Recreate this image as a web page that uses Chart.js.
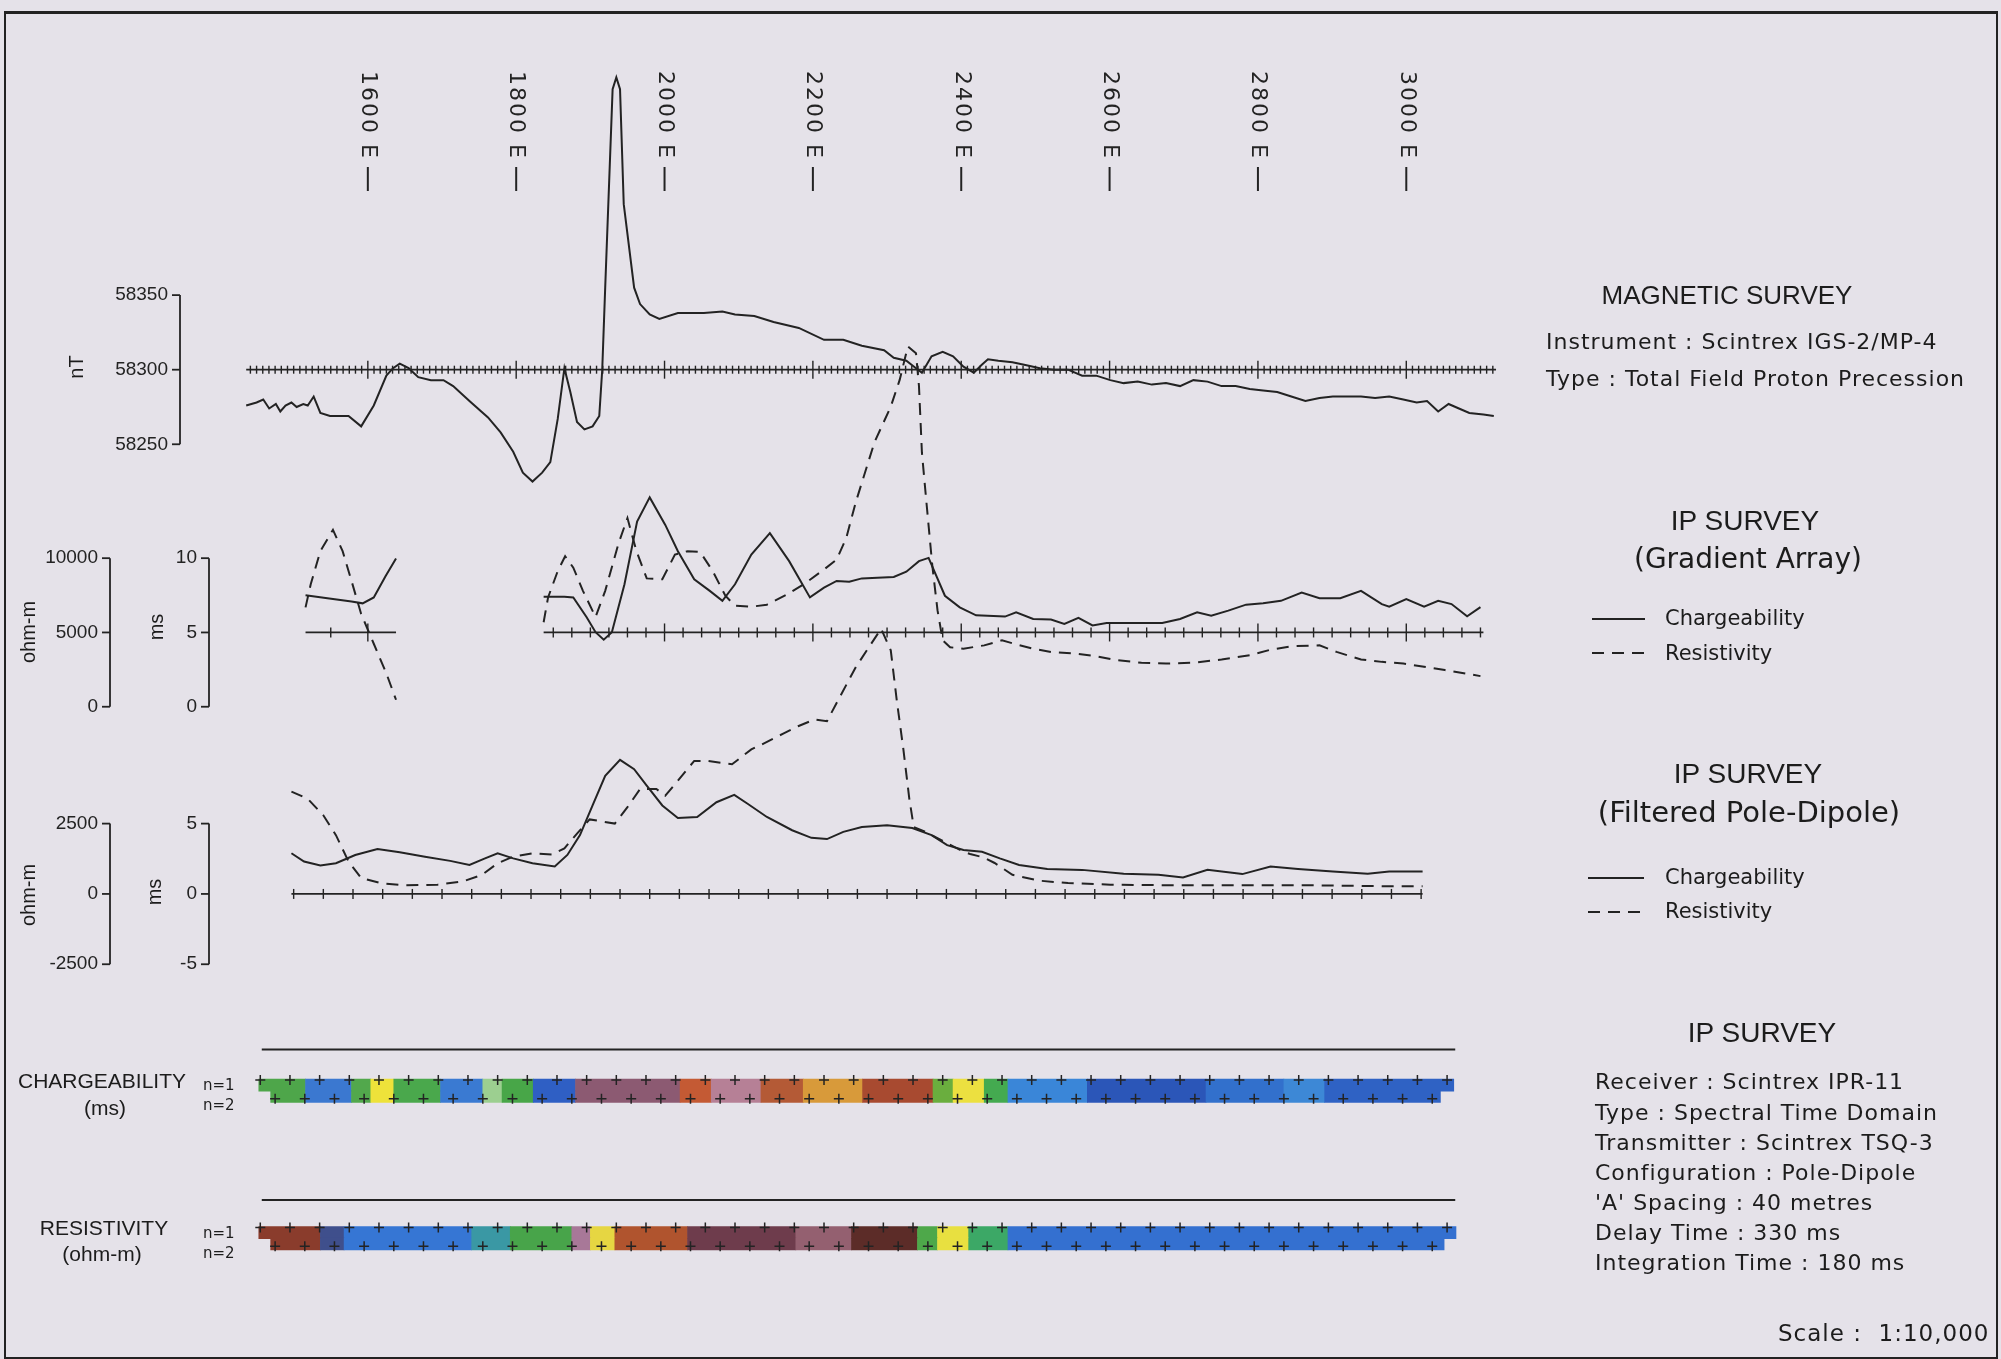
<!DOCTYPE html>
<html lang="en">
<head>
<meta charset="UTF-8">
<title>Magnetic and IP Survey Profile</title>
<script src="https://cdn.jsdelivr.net/npm/chart.js"></script>
<style>
  body { margin: 0; background: #e5e2e9; }
  #sheet { position: relative; width: 2001px; height: 1359px; overflow: hidden; background: #e5e2e9; }
  #survey { position: absolute; left: 0; top: 0; }
  .frame { position: absolute; left: 4px; top: 11px; width: 1990px; height: 1343px; border: 2px solid #222; border-top-width: 3px; }
  .t { position: absolute; white-space: nowrap; color: #1c1c1c; line-height: 1; }
  .c { transform: translate(-50%, -50%); }
  .l { transform: translateY(-50%); }
  .head { font-family: "Liberation Sans", Arial, sans-serif; font-size: 26px; }
  .note { font-family: "DejaVu Sans", sans-serif; font-size: 22px; letter-spacing: 1px; }
  .leg { font-family: "DejaVu Sans", sans-serif; font-size: 21px; }
  .side { font-family: "Liberation Sans", Arial, sans-serif; font-size: 21px; }
  .nlab { font-family: "DejaVu Sans", sans-serif; font-size: 15px; }
  .rot { font-family: "Liberation Sans", Arial, sans-serif; font-size: 20px; transform: translate(-50%, -50%) rotate(-90deg); }
  .solid { position: absolute; height: 2px; background: #222; }
  .dash { position: absolute; height: 2px; background: repeating-linear-gradient(90deg, #222 0 12px, transparent 12px 20px); }
</style>
</head>
<body>
<div id="sheet">
  <canvas id="survey" width="2001" height="1359"></canvas>
  <div class="frame"></div>

  <!-- axis titles -->
  <div class="t rot" style="left:76px;top:367px">nT</div>
  <div class="t rot" style="left:28px;top:632px">ohm-m</div>
  <div class="t rot" style="left:156px;top:627px">ms</div>
  <div class="t rot" style="left:28px;top:895px">ohm-m</div>
  <div class="t rot" style="left:154px;top:892px">ms</div>

  <!-- pseudo-section labels -->
  <div class="t c side" style="left:102px;top:1080px">CHARGEABILITY</div>
  <div class="t c side" style="left:105px;top:1107px">(ms)</div>
  <div class="t l nlab" style="left:203px;top:1085px">n=1</div>
  <div class="t l nlab" style="left:203px;top:1105px">n=2</div>
  <div class="t c side" style="left:104px;top:1227px">RESISTIVITY</div>
  <div class="t c side" style="left:102px;top:1253px">(ohm-m)</div>
  <div class="t l nlab" style="left:203px;top:1233px">n=1</div>
  <div class="t l nlab" style="left:203px;top:1253px">n=2</div>

  <!-- right hand notes -->
  <div class="t c head" style="left:1727px;top:295px">MAGNETIC SURVEY</div>
  <div class="t l note" style="left:1546px;top:342px">Instrument : Scintrex IGS-2/MP-4</div>
  <div class="t l note" style="left:1546px;top:379px">Type : Total Field Proton Precession</div>

  <div class="t c head" style="left:1745px;top:521px;font-size:28px">IP SURVEY</div>
  <div class="t c leg" style="left:1748px;top:559px;font-size:28px">(Gradient Array)</div>
  <div class="solid" style="left:1592px;top:618px;width:53px"></div>
  <div class="t l leg" style="left:1665px;top:618px">Chargeability</div>
  <div class="dash" style="left:1592px;top:652px;width:53px"></div>
  <div class="t l leg" style="left:1665px;top:653px">Resistivity</div>

  <div class="t c head" style="left:1748px;top:774px;font-size:28px">IP SURVEY</div>
  <div class="t c leg" style="left:1749px;top:812px;font-size:29px">(Filtered Pole-Dipole)</div>
  <div class="solid" style="left:1588px;top:877px;width:56px"></div>
  <div class="t l leg" style="left:1665px;top:877px">Chargeability</div>
  <div class="dash" style="left:1588px;top:911px;width:56px"></div>
  <div class="t l leg" style="left:1665px;top:911px">Resistivity</div>

  <div class="t c head" style="left:1762px;top:1033px;font-size:28px">IP SURVEY</div>
  <div class="t l note" style="left:1595px;top:1082px">Receiver : Scintrex IPR-11</div>
  <div class="t l note" style="left:1595px;top:1113px">Type : Spectral Time Domain</div>
  <div class="t l note" style="left:1595px;top:1143px">Transmitter : Scintrex TSQ-3</div>
  <div class="t l note" style="left:1595px;top:1173px">Configuration : Pole-Dipole</div>
  <div class="t l note" style="left:1595px;top:1203px">'A' Spacing : 40 metres</div>
  <div class="t l note" style="left:1595px;top:1233px">Delay Time : 330 ms</div>
  <div class="t l note" style="left:1595px;top:1263px">Integration Time : 180 ms</div>
  <div class="t l note" style="left:1778px;top:1333px;font-size:23px">Scale :&nbsp; 1:10,000</div>
</div>

<script>
const INK = '#232323';
const W = 2001, H = 1359;

// station labels along the line (metres east)
const stationLabels = [1600, 1800, 2000, 2200, 2400, 2600, 2800, 3000];

// magnetic total field (nT)
const magStations = [1436,1450,1459,1467,1476,1482,1489,1497,1504,1513,1519,1527,1536,1549,1561,1574,1591,1608,1625,1634,
  1643,1655,1668,1685,1702,1715,1737,1762,1779,1796,1809,1822,1835,1846,1856,1865,1873,1882,1892,1903,
  1912,1916,1920,1930,1935,1940,1945,1959,1967,1980,1993,2018,2053,2078,2095,2121,2147,2181,2215,2241,2266,2296,
  2309,2326,2339,2347,2360,2375,2389,2403,2417,2427,2436,2450,2469,2488,2506,2525,2544,2563,2582,2601,
  2619,2638,2657,2676,2695,2713,2732,2751,2770,2789,2807,2826,2845,2864,2883,2901,2920,2939,2958,2977,
  2996,3014,3028,3043,3057,3071,3085,3104,3118];
const magField = [58276,58278,58280,58274,58277,58272,58276,58278,58275,58277,58276,58282,58271,58269,58269,58269,58262,58276,58296,58301,
  58304,58301,58295,58293,58293,58289,58279,58268,58258,58245,58231,58225,58231,58238,58267,58301,58285,58265,58260,58262,
  58269,58300,58355,58488,58496,58488,58411,58355,58344,58337,58334,58338,58338,58339,58337,58336,58332,58328,58320,58320,58316,58313,
  58308,58306,58301,58298,58309,58312,58309,58302,58298,58303,58307,58306,58305,58303,58301,58300,58300,58296,58296,58293,
  58291,58292,58290,58291,58289,58293,58292,58289,58289,58287,58286,58285,58282,58279,58281,58282,58282,58282,58281,58282,
  58280,58278,58279,58272,58277,58274,58271,58270,58269];

// gradient array, west block
const gradChgStationsW = [1516, 1548, 1578, 1593, 1608, 1624, 1638];
const gradChgW = [7.51, 7.29, 7.09, 6.96, 7.36, 8.8, 9.98];                       // ms
const gradResStationsW = [1516, 1523, 1536, 1553, 1566, 1578, 1591, 1608, 1625, 1638];
const gradResW = [6690, 8240, 10470, 11910, 10470, 8470, 6240, 4240, 2240, 470]; // ohm-m

// gradient array, east block
const gradChgStationsE = [1837,1865,1877,1895,1907,1918,1929,1946,1963,1980,2001,2018,2040,2061,2078,2095,2117,2142,2168,2196,
  2215,2232,2249,2266,2287,2309,2326,2343,2356,2378,2398,2420,2459,2474,2497,2521,2539,2558,2577,2596,
  2671,2695,2718,2737,2760,2784,2807,2831,2859,2883,2911,2939,2967,2977,3000,3024,3043,3061,3082,3100];
const gradChgE = [7.40,7.40,7.36,6.02,5.02,4.51,5.02,8.24,12.47,14.09,12.24,10.47,8.58,7.80,7.13,8.24,10.24,11.69,9.80,7.36,
  8.02,8.47,8.42,8.64,8.69,8.73,9.09,9.80,10.02,7.47,6.69,6.15,6.07,6.36,5.91,5.87,5.58,5.98,5.47,5.64,
  5.64,5.91,6.36,6.13,6.47,6.87,6.96,7.13,7.69,7.31,7.31,7.80,6.91,6.73,7.24,6.73,7.13,6.91,6.09,6.70];
const gradResStationsE = [1837,1843,1856,1866,1877,1890,1907,1920,1938,1950,1962,1976,1997,2014,2031,2048,2065,2082,2095,2117,
  2138,2164,2189,2215,2232,2245,2258,2283,2305,2317,2328,2339,2343,2347,2353,2361,2368,2375,2385,2403,
  2431,2455,2474,2497,2521,2553,2582,2610,2643,2676,2713,2751,2789,2817,2845,2883,2906,2939,2967,2996,
  3024,3052,3080,3100];
const gradResE = [5690,7360,9130,10130,9360,7800,6040,7800,11000,12700,10500,8640,8580,10240,10470,10420,9130,7470,6800,6730,
  6870,7530,8290,9240,9910,11360,13800,17800,20200,22000,24250,23800,21600,17100,13800,9500,6500,4470,4000,3910,
  4130,4470,4200,3910,3690,3580,3400,3130,2960,2910,2960,3180,3470,3840,4070,4130,3690,3180,3020,2910,
  2690,2470,2240,2060];

// filtered pole-dipole
const pdChgStations = [1497,1514,1536,1557,1583,1613,1643,1677,1711,1737,1758,1775,1796,1822,1852,1869,1886,1903,1920,1940,
  1959,1976,1997,2018,2044,2070,2094,2112,2138,2172,2198,2219,2241,2266,2300,2334,2360,2381,2403,2428,
  2452,2478,2516,2563,2619,2666,2699,2732,2779,2817,2854,2901,2948,2977,3022];
const pdChg = [2.89,2.30,2.02,2.18,2.77,3.19,2.96,2.65,2.35,2.06,2.53,2.89,2.53,2.18,1.95,2.77,4.18,6.29,8.40,9.53,
  8.87,7.70,6.29,5.40,5.47,6.52,7.04,6.41,5.47,4.53,3.99,3.90,4.41,4.76,4.88,4.69,4.18,3.47,3.12,3.00,
  2.53,2.06,1.78,1.71,1.43,1.36,1.17,1.71,1.41,1.95,1.78,1.59,1.43,1.59,1.59];
const pdResStations = [1497,1519,1540,1557,1574,1591,1617,1651,1694,1728,1754,1775,1796,1822,1848,1865,1882,1899,1933,1950,
  1967,1989,2001,2018,2040,2057,2091,2117,2130,2160,2180,2202,2219,2232,2258,2292,2305,2313,2322,2330,
  2336,2352,2377,2403,2412,2430,2445,2469,2506,2544,2601,2695,2789,2883,2977,3022];
const pdRes = [3640,3380,2795,2090,1150,565,385,305,330,445,680,1090,1325,1445,1405,1620,2145,2650,2500,3085,
  3730,3730,3495,4025,4730,4730,4610,5140,5300,5700,5960,6200,6140,6790,8070,9430,8660,6900,5140,3380,
  2380,2205,1855,1500,1420,1300,1100,680,470,385,330,305,305,305,270,270];

// axis ticks of the small bracket scales
const magTicks = [58250, 58300, 58350];
const gradOhmTicks = [0, 5000, 10000];
const gradMsTicks = [0, 5, 10];
const pdOhmTicks = [-2500, 0, 2500];
const pdMsTicks = [-5, 0, 5];

// pseudo-section colour blocks (station breaks, colour per block)
const chgBreaks = [1453,1516,1578,1604,1635,1698,1755,1781,1823,1880,2021,2063,2130,2187,2267,2362,2389,2431,2463,2570,2730,2835,2890,3067];
const chgColors = ['#4ea64a','#3b78d0','#52a84c','#eee23a','#4aa84c','#3a7ad2','#9ccf90','#48a648','#2f5fc4','#8c5a72','#c45a34',
  '#b68096','#b45a36','#d89a3a','#a84a30','#6aae3e','#ece040','#44aa50','#3a86d8','#2b56b8','#3270cc','#3d88d6','#2f62c4'];
const chgRowStart = [1453, 1469];
const chgRowEnd = [3064, 3046];
const resBreaks = [1453,1536,1568,1740,1792,1875,1900,1933,2031,2177,2252,2341,2368,2410,2463,3067];
const resColors = ['#8a3c2c','#3f4f8c','#3676d4','#3a98a4','#48a44a','#a87898','#e6d642','#b0542e','#6e3c4c','#946070',
  '#5c2c28','#4ea84a','#e8e040','#3ca866','#3470d0'];
const resRowStart = [1453, 1469];
const resRowEnd = [3067, 3051];
const n1Stations = [1455,1495,1535,1575,1615,1655,1695,1735,1775,1815,1855,1895,1935,1975,2015,2055,2095,2135,2175,2215,
  2255,2295,2335,2375,2415,2455,2495,2535,2575,2615,2655,2695,2735,2775,2815,2855,2895,2935,2975,3015,3055];
const n2Stations = [1475,1515,1555,1595,1635,1675,1715,1755,1795,1835,1875,1915,1955,1995,2035,2075,2115,2155,2195,2235,
  2275,2315,2355,2395,2435,2475,2515,2555,2595,2635,2675,2715,2755,2795,2835,2875,2915,2955,2995,3035];

// ---- layout: every panel shares the full canvas, each y scale is placed by its own range ----
function band(value, px, pxPerUnit) {
  const max = value + px / pxPerUnit;
  return { type: 'linear', display: false, offset: false, bounds: 'data', min: max - H / pxPerUnit, max };
}
function bandDown(value, px, pxPerUnit) {
  const min = value - px / pxPerUnit;
  return { type: 'linear', display: false, offset: false, bounds: 'data', reverse: true, min, max: min + H / pxPerUnit };
}
const xPerM = 0.7466;
const xMin = 1600 - 363.7 / xPerM;
const rowPx = 11.4;

function pts(xs, ys) { return xs.map((s, i) => ({ x: s, y: ys[i] })); }
function trace(xs, ys, yAxisID, dash) {
  return {
    type: 'line', data: pts(xs, ys), xAxisID: 'x', yAxisID,
    borderColor: INK, borderWidth: 2, borderDash: dash || [],
    pointRadius: 0, fill: false, tension: 0, clip: false, order: 1
  };
}
function section(breaks, colors, starts, ends, yAxisID) {
  const data = [], fill = [];
  [1, 2].forEach((n, r) => {
    for (let i = 0; i < colors.length; i++) {
      const a = Math.max(breaks[i], starts[r]);
      const b = Math.min(breaks[i + 1], ends[r]);
      if (b > a) { data.push({ x: [a, b], y: n }); fill.push(colors[i]); }
    }
  });
  return {
    type: 'bar', indexAxis: 'y', xAxisID: 'x', yAxisID, data,
    backgroundColor: fill, borderWidth: 0, barThickness: rowPx + 0.6, grouped: false, order: 5
  };
}
function marks(xs, level, yAxisID) {
  return {
    type: 'scatter', data: xs.map(s => ({ x: s, y: level })), xAxisID: 'x', yAxisID,
    pointStyle: 'cross', pointRadius: 5, borderColor: INK, borderWidth: 1.5, showLine: false, clip: false, order: 0
  };
}

// baselines with station ticks, bracket axes, rules over the sections
const baselines = [
  { axis: 'yMag', level: 58300, from: 1436, to: 3121, first: 1600 - 19 * 200 / 24, step: 200 / 24, minor: 4, major: 9 },
  { axis: 'yGms', level: 5, from: 1516, to: 1638, first: 1550, step: 50, minor: 5, major: 9 },
  { axis: 'yGms', level: 5, from: 1837, to: 3104, first: 1850, step: 25, minor: 5, major: 9 },
  { axis: 'yPms', level: 0, from: 1497, to: 3022, first: 1500, step: 40, minor: 5, major: 9 }
];
const brackets = [
  { axis: 'yMag', at: 180, ticks: magTicks },
  { axis: 'yGohm', at: 110, ticks: gradOhmTicks },
  { axis: 'yGms', at: 209, ticks: gradMsTicks },
  { axis: 'yPohm', at: 110, ticks: pdOhmTicks },
  { axis: 'yPms', at: 209, ticks: pdMsTicks }
];
const rules = [
  { axis: 'yChg', level: -2.15, from: 1457, to: 3066 },
  { axis: 'yRes', level: -1.9, from: 1457, to: 3066 }
];

const profileDecor = {
  id: 'profileDecor',
  afterDatasetsDraw(chart) {
    const { ctx, scales } = chart;
    const x = scales.x;
    ctx.save();
    ctx.strokeStyle = INK;
    ctx.fillStyle = INK;

    // station labels, read top to bottom
    ctx.font = '22px "DejaVu Sans", sans-serif';
    ctx.letterSpacing = '2px';
    ctx.textAlign = 'left';
    ctx.textBaseline = 'middle';
    ctx.lineWidth = 2;
    stationLabels.forEach(s => {
      const px = x.getPixelForValue(s);
      ctx.save();
      ctx.translate(px, 71);
      ctx.rotate(Math.PI / 2);
      ctx.fillText(s + ' E', 0, 0);
      ctx.restore();
      ctx.beginPath();
      ctx.moveTo(px, 167);
      ctx.lineTo(px, 191);
      ctx.stroke();
    });
    ctx.letterSpacing = '0px';

    baselines.forEach(b => {
      const py = scales[b.axis].getPixelForValue(b.level);
      ctx.lineWidth = 1.8;
      ctx.beginPath();
      ctx.moveTo(x.getPixelForValue(b.from), py);
      ctx.lineTo(x.getPixelForValue(b.to), py);
      ctx.stroke();
      ctx.lineWidth = 1.4;
      for (let k = 0; ; k++) {
        const s = b.first + k * b.step;
        if (s > b.to + 1e-6) break;
        const major = Math.abs(s / 200 - Math.round(s / 200)) < 1e-6;
        const len = major ? b.major : b.minor;
        const px = x.getPixelForValue(s);
        ctx.beginPath();
        ctx.moveTo(px, py - len);
        ctx.lineTo(px, py + len);
        ctx.stroke();
      }
    });

    ctx.font = '19px "Liberation Sans", Arial, sans-serif';
    ctx.textAlign = 'right';
    ctx.textBaseline = 'middle';
    brackets.forEach(a => {
      const sc = scales[a.axis];
      const ys = a.ticks.map(v => sc.getPixelForValue(v));
      ctx.lineWidth = 1.8;
      ctx.beginPath();
      ctx.moveTo(a.at, Math.min(...ys));
      ctx.lineTo(a.at, Math.max(...ys));
      ctx.stroke();
      a.ticks.forEach((v, i) => {
        ctx.beginPath();
        ctx.moveTo(a.at - 8, ys[i]);
        ctx.lineTo(a.at, ys[i]);
        ctx.stroke();
        ctx.fillText(String(v), a.at - 12, ys[i]);
      });
    });

    ctx.lineWidth = 2;
    rules.forEach(r => {
      const py = scales[r.axis].getPixelForValue(r.level);
      ctx.beginPath();
      ctx.moveTo(x.getPixelForValue(r.from), py);
      ctx.lineTo(x.getPixelForValue(r.to), py);
      ctx.stroke();
    });
    ctx.restore();
  }
};

new Chart(document.getElementById('survey').getContext('2d'), {
  type: 'line',
  data: {
    datasets: [
      trace(magStations, magField, 'yMag'),
      trace(gradChgStationsW, gradChgW, 'yGms'),
      trace(gradResStationsW, gradResW, 'yGohm', [12, 8]),
      trace(gradChgStationsE, gradChgE, 'yGms'),
      trace(gradResStationsE, gradResE, 'yGohm', [12, 8]),
      trace(pdChgStations, pdChg, 'yPms'),
      trace(pdResStations, pdRes, 'yPohm', [12, 8]),
      section(chgBreaks, chgColors, chgRowStart, chgRowEnd, 'yChg'),
      section(resBreaks, resColors, resRowStart, resRowEnd, 'yRes'),
      marks(n1Stations, 0.55, 'yChg'),
      marks(n2Stations, 2.2, 'yChg'),
      marks(n1Stations, 0.55, 'yRes'),
      marks(n2Stations, 2.2, 'yRes')
    ]
  },
  options: {
    responsive: false,
    animation: false,
    devicePixelRatio: 1,
    layout: { padding: 0 },
    plugins: { legend: { display: false }, tooltip: { enabled: false } },
    scales: {
      x: { type: 'linear', display: false, offset: false, bounds: 'data', min: xMin, max: xMin + W / xPerM },
      yMag: band(58300, 366.7, 1.506),
      yGms: band(5, 632, 15),
      yGohm: band(5000, 632, 0.015),
      yPms: band(0, 896, 14.2),
      yPohm: band(0, 896, 14.2 / 500),
      yChg: bandDown(1, 1089, rowPx),
      yRes: bandDown(1, 1238, rowPx)
    }
  },
  plugins: [profileDecor]
});
</script>
</body>
</html>
